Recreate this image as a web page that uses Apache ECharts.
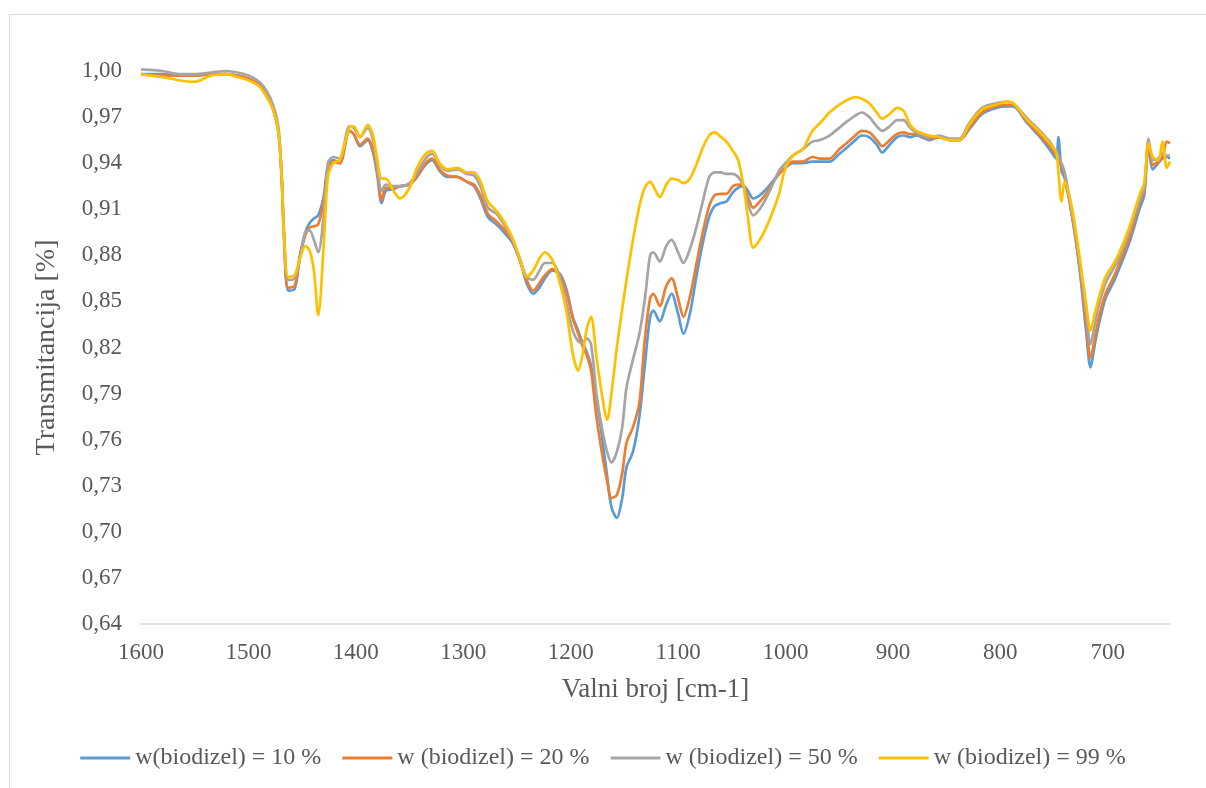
<!DOCTYPE html>
<html>
<head>
<meta charset="utf-8">
<script src="https://cdn.jsdelivr.net/npm/echarts@6/dist/echarts.min.js"></script>
<style>
html,body{margin:0;padding:0;background:#fff;}
#chart{width:1206px;height:788px;}
</style>
</head>
<body>
<div id="chart"></div>
<script>
const wavenumber = [
 1600,1580,1565,1550,1535,1520,1510,1500,1490,1483,
 1477,1472,1469,1467,1463,1457,1452,1447,1443,1439,
 1435,1430,1426,1421,1415,1406,1402,1396,1389,1384,
 1380,1376,1372,1365,1359,1350,1343,1335,1329,1322,
 1315,1305,1297,1290,1284,1277,1269,1262,1254,1247,
 1241,1235,1229,1224,1217,1210,1204,1198,1193,1189,
 1185,1181,1176,1171,1166,1162,1157,1152,1148,1142,
 1136,1131,1126,1123,1117,1111,1106,1100,1095,1089,
 1083,1077,1071,1066,1060,1055,1049,1044,1039,1035,
 1030,1024,1018,1012,1006,1000,993,984,975,968,
 959,950,943,935,929,922,915,910,903,896,
 890,884,878,866,857,847,838,829,817,804,
 794,788,776,763,754,748,746,743,740,733,
 726,720,716,712,708,702,695,689,680,670,
 666,662,658,653,649,645,642
];
const t10 = [
 0.998,0.998,0.997,0.997,0.998,0.998,0.997,0.995,0.991,0.984,
 0.975,0.960,0.930,0.895,0.857,0.858,0.880,0.895,0.901,0.904,
 0.906,0.918,0.938,0.942,0.940,0.961,0.959,0.951,0.955,0.947,
 0.932,0.914,0.922,0.923,0.925,0.926,0.931,0.939,0.942,0.935,
 0.931,0.931,0.928,0.925,0.917,0.905,0.900,0.895,0.888,0.876,
 0.862,0.855,0.859,0.865,0.870,0.868,0.858,0.840,0.831,0.823,
 0.817,0.808,0.787,0.763,0.736,0.716,0.709,0.722,0.742,0.752,
 0.775,0.808,0.840,0.844,0.837,0.848,0.855,0.842,0.829,0.842,
 0.866,0.888,0.905,0.912,0.914,0.915,0.921,0.924,0.925,0.922,
 0.917,0.919,0.923,0.928,0.933,0.937,0.940,0.940,0.941,0.941,
 0.941,0.946,0.950,0.955,0.958,0.957,0.952,0.947,0.952,0.957,
 0.958,0.957,0.958,0.955,0.957,0.955,0.955,0.962,0.972,0.976,
 0.977,0.977,0.967,0.957,0.949,0.943,0.957,0.935,0.930,0.905,
 0.870,0.830,0.807,0.822,0.836,0.852,0.862,0.872,0.888,0.911,
 0.919,0.951,0.936,0.940,0.943,0.944,0.943
];
const t20 = [
 0.998,0.997,0.997,0.997,0.998,0.998,0.997,0.995,0.991,0.984,
 0.975,0.960,0.930,0.895,0.859,0.860,0.879,0.893,0.898,0.899,
 0.900,0.915,0.937,0.941,0.940,0.961,0.959,0.952,0.956,0.949,
 0.934,0.916,0.924,0.924,0.925,0.926,0.932,0.940,0.943,0.936,
 0.932,0.931,0.928,0.926,0.919,0.907,0.902,0.897,0.889,0.877,
 0.864,0.857,0.862,0.867,0.871,0.867,0.856,0.839,0.829,0.821,
 0.815,0.805,0.775,0.752,0.733,0.722,0.724,0.738,0.758,0.768,
 0.784,0.825,0.852,0.855,0.847,0.860,0.865,0.852,0.840,0.853,
 0.874,0.895,0.912,0.919,0.920,0.920,0.925,0.926,0.925,0.918,
 0.911,0.915,0.920,0.927,0.933,0.937,0.941,0.941,0.944,0.943,
 0.943,0.949,0.953,0.958,0.961,0.960,0.955,0.951,0.955,0.959,
 0.960,0.959,0.959,0.956,0.957,0.955,0.955,0.963,0.973,0.977,
 0.978,0.978,0.968,0.958,0.951,0.945,0.943,0.938,0.932,0.905,
 0.872,0.835,0.813,0.826,0.840,0.855,0.865,0.875,0.891,0.915,
 0.922,0.953,0.939,0.941,0.944,0.954,0.953
];
const t50 = [
 1.001,1.000,0.998,0.998,0.999,1.000,0.999,0.997,0.993,0.987,
 0.978,0.963,0.932,0.897,0.864,0.865,0.878,0.895,0.896,0.890,
 0.882,0.905,0.940,0.944,0.943,0.964,0.963,0.957,0.963,0.955,
 0.937,0.922,0.926,0.925,0.925,0.927,0.934,0.943,0.946,0.939,
 0.935,0.936,0.933,0.932,0.925,0.911,0.907,0.900,0.890,0.877,
 0.866,0.864,0.870,0.875,0.875,0.866,0.849,0.831,0.824,0.823,
 0.826,0.822,0.790,0.768,0.752,0.745,0.752,0.768,0.794,0.812,
 0.829,0.851,0.880,0.882,0.876,0.886,0.890,0.882,0.875,0.884,
 0.898,0.915,0.931,0.934,0.934,0.933,0.933,0.931,0.925,0.914,
 0.906,0.910,0.917,0.926,0.935,0.940,0.945,0.949,0.954,0.955,
 0.958,0.963,0.967,0.971,0.973,0.970,0.964,0.961,0.964,0.968,
 0.968,0.963,0.960,0.957,0.958,0.956,0.956,0.966,0.976,0.979,
 0.980,0.979,0.970,0.961,0.954,0.947,0.945,0.940,0.934,0.907,
 0.875,0.842,0.822,0.835,0.848,0.862,0.871,0.879,0.895,0.917,
 0.924,0.956,0.942,0.943,0.946,0.945,0.945
];
const t99 = [
 0.998,0.996,0.994,0.993,0.997,0.998,0.996,0.994,0.990,0.983,
 0.975,0.960,0.930,0.895,0.866,0.867,0.878,0.886,0.883,0.870,
 0.841,0.885,0.931,0.940,0.942,0.963,0.964,0.957,0.965,0.958,
 0.942,0.930,0.930,0.922,0.917,0.924,0.937,0.946,0.948,0.940,
 0.936,0.937,0.934,0.934,0.928,0.915,0.909,0.902,0.891,0.877,
 0.866,0.870,0.878,0.882,0.877,0.862,0.844,0.816,0.805,0.815,
 0.832,0.840,0.814,0.790,0.773,0.790,0.820,0.845,0.864,0.890,
 0.912,0.924,0.928,0.925,0.918,0.926,0.930,0.929,0.927,0.930,
 0.939,0.950,0.958,0.960,0.957,0.954,0.948,0.942,0.925,0.905,
 0.885,0.890,0.898,0.908,0.920,0.937,0.945,0.949,0.961,0.966,
 0.973,0.978,0.981,0.983,0.982,0.979,0.973,0.969,0.972,0.976,
 0.974,0.965,0.961,0.958,0.957,0.955,0.955,0.965,0.975,0.978,
 0.980,0.979,0.969,0.960,0.953,0.947,0.935,0.915,0.928,0.910,
 0.878,0.848,0.831,0.842,0.853,0.866,0.874,0.882,0.898,0.920,
 0.927,0.953,0.944,0.942,0.954,0.937,0.941
];
const seriesNames = ['w(biodizel) = 10 %','w (biodizel) = 20 %','w (biodizel) = 50 %','w (biodizel) = 99 %'];
const seriesColors = ['#5B9BD5','#ED7D31','#A5A5A5','#FFC000'];
const xTickLabels = [1600,1500,1400,1300,1200,1100,1000,900,800,700];

const font = '"Liberation Serif","Times New Roman",serif';
const allT = [t10,t20,t50,t99];
const series = allT.map((arr,i)=>({
  name: seriesNames[i],
  type: 'line',
  data: wavenumber.map((w,j)=>[w,arr[j]]),
  showSymbol: false,
  smooth: 0.3,
  clip: false,
  lineStyle: {width: 2.7, color: seriesColors[i]},
  itemStyle: {color: seriesColors[i]},
  emphasis: {disabled: true}
}));

const chart = echarts.init(document.getElementById('chart'), null, {renderer:'canvas'});
chart.setOption({
  backgroundColor: '#fff',
  animation: false,
  textStyle: {fontFamily: font},
  graphic: [{
    type: 'rect', left: 7, top: 12, silent: true,
    shape: {x:0, y:0, width: 1300, height: 900},
    style: {fill: 'none', stroke: '#d9d9d9', lineWidth: 1}
  }],
  grid: {left: 141, right: 36, top: 71, bottom: 164, containLabel: false, outerBoundsMode: 'none'},
  legend: {
    bottom: 13, left: 'center',
    itemWidth: 50, itemHeight: 3, itemGap: 21, icon: 'rect',
    textStyle: {fontFamily: font, fontSize: 24, color: '#595959'},
    data: seriesNames
  },
  xAxis: {
    type: 'value', min: 642, max: 1600, inverse: true,
    name: 'Valni broj [cm-1]', nameLocation: 'middle', nameGap: 52,
    nameTextStyle: {fontFamily: font, fontSize: 27, color: '#595959'},
    axisLine: {show: true, lineStyle: {color: '#d9d9d9', width: 1.5}},
    axisTick: {show: false},
    splitLine: {show: false},
    axisLabel: {customValues: xTickLabels, fontFamily: font, fontSize: 23, color: '#595959', margin: 17,
      formatter: v => String(v)}
  },
  yAxis: {
    type: 'value', min: 0.64, max: 1.00, interval: 0.03,
    name: 'Transmitancija [%]', nameLocation: 'middle', nameGap: 80, nameRotate: 90,
    nameTextStyle: {fontFamily: font, fontSize: 28, color: '#595959'},
    axisLine: {show: false}, axisTick: {show: false},
    splitLine: {show: false},
    axisLabel: {fontFamily: font, fontSize: 23, color: '#595959', margin: 19,
      formatter: v => v.toFixed(2).replace('.', ',')}
  },
  series: series
});
</script>
</body>
</html>
